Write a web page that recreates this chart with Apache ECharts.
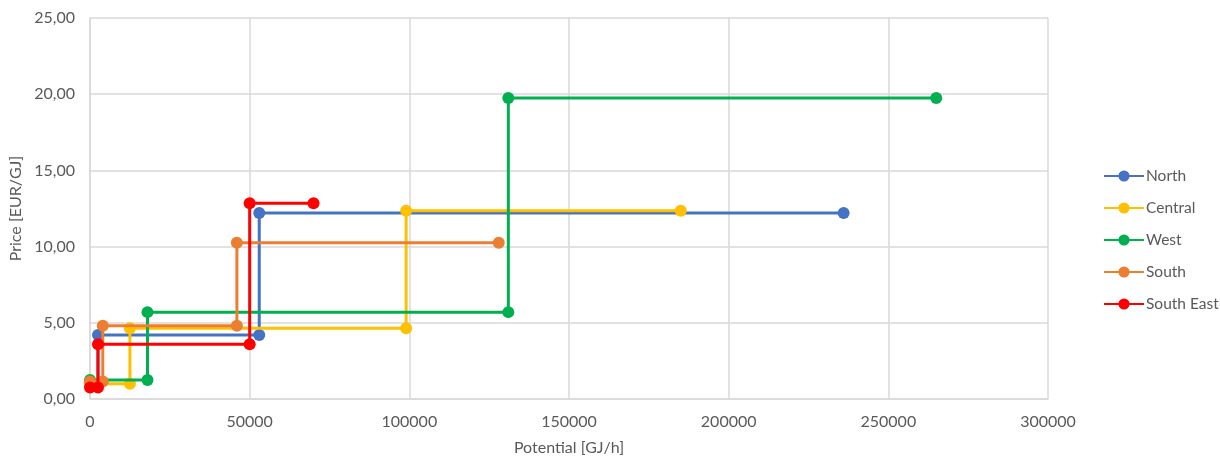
<!DOCTYPE html>
<html>
<head>
<meta charset="utf-8">
<script src="https://cdn.jsdelivr.net/npm/echarts@6/dist/echarts.min.js"></script>
<style>
  html, body { margin: 0; padding: 0; background: #ffffff; }
  #chart { width: 1220px; height: 457px; }
</style>
</head>
<body>
<div id="chart"></div>
<script>
// Supply curves per region: potential (GJ/h) vs price (EUR/GJ)
const seriesNames = ['North', 'Central', 'West', 'South', 'South East'];
const seriesColors = ['#4472C4', '#FFC000', '#00B050', '#ED7D31', '#FF0000'];

const northX = [0, 2500, 2500, 53000, 53000, 236000];
const northY = [0.95, 0.95, 4.2, 4.2, 12.2, 12.2];

const centralX = [0, 12500, 12500, 99000, 99000, 185000];
const centralY = [1.0, 1.0, 4.65, 4.65, 12.35, 12.35];

const westX = [0, 18000, 18000, 131000, 131000, 265000];
const westY = [1.25, 1.25, 5.7, 5.7, 19.75, 19.75];

const southX = [0, 4000, 4000, 46000, 46000, 128000];
const southY = [1.15, 1.15, 4.8, 4.8, 10.25, 10.25];

const southEastX = [0, 2500, 2500, 50000, 50000, 70000];
const southEastY = [0.75, 0.75, 3.6, 3.6, 12.85, 12.85];

const xValues = [northX, centralX, westX, southX, southEastX];
const yValues = [northY, centralY, westY, southY, southEastY];

const xAxisTitle = 'Potential [GJ/h]';
const yAxisTitle = 'Price [EUR/GJ]';

const textColor = '#595959';
const gridColor = '#d9d9d9';
const fontFamily = 'Lato, "Open Sans", sans-serif';
const fontSize = 16;

const chart = echarts.init(document.getElementById('chart'), null, { renderer: 'canvas' });

const series = seriesNames.map((name, i) => ({
  name: name,
  type: 'line',
  data: xValues[i].map((x, j) => [x, yValues[i][j]]),
  symbol: 'circle',
  symbolSize: 12,
  showSymbol: true,
  lineStyle: { width: 3, color: seriesColors[i] },
  itemStyle: { color: seriesColors[i] },
  emphasis: { disabled: true },
  animation: false,
  z: 2 + i
}));

chart.setOption({
  animation: false,
  grid: { left: 90, right: 172, top: 18, bottom: 58, containLabel: false, outerBoundsMode: 'none' },
  xAxis: {
    type: 'value',
    min: 0,
    max: 300000,
    interval: 50000,
    name: xAxisTitle,
    nameLocation: 'middle',
    nameGap: 41,
    nameTextStyle: { color: textColor, fontSize: fontSize, fontFamily: fontFamily },
    axisLine: { show: true, lineStyle: { color: gridColor, width: 1.5 } },
    axisTick: { show: false },
    axisLabel: {
      color: textColor, fontSize: fontSize, fontFamily: fontFamily, margin: 15,
      formatter: v => String(v)
    },
    splitLine: { show: true, lineStyle: { color: gridColor, width: 1.5 } }
  },
  yAxis: {
    type: 'value',
    min: 0,
    max: 25,
    interval: 5,
    name: yAxisTitle,
    nameLocation: 'middle',
    nameGap: 64,
    nameRotate: 90,
    nameTextStyle: { color: textColor, fontSize: fontSize, fontFamily: fontFamily },
    axisLine: { show: true, lineStyle: { color: gridColor, width: 1.5 } },
    axisTick: { show: false },
    axisLabel: {
      color: textColor, fontSize: fontSize, fontFamily: fontFamily, margin: 15,
      formatter: v => v.toFixed(2).replace('.', ',')
    },
    splitLine: { show: true, lineStyle: { color: gridColor, width: 1.5 } }
  },
  legend: {
    orient: 'vertical',
    left: 1103,
    top: 168,
    padding: 0,
    itemWidth: 40,
    itemHeight: 14,
    itemGap: 16,
    textStyle: { color: textColor, fontSize: 15.5, fontFamily: fontFamily, padding: [0, 0, 0, -3] },
    data: seriesNames
  },
  series: series
});
</script>
</body>
</html>
